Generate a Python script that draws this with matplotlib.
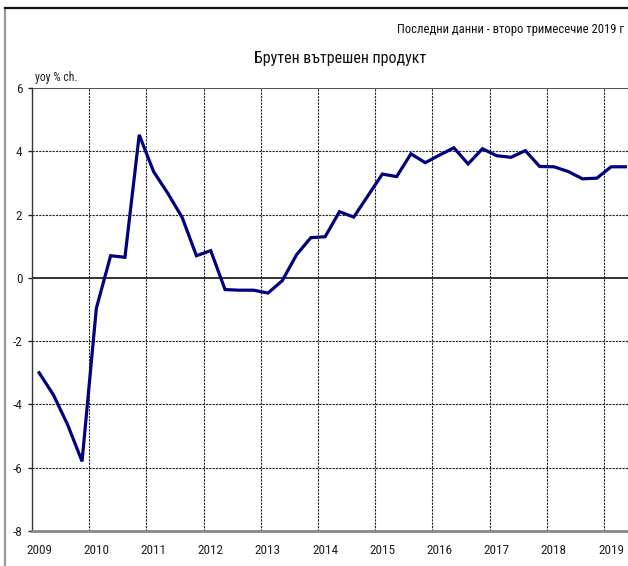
import matplotlib
matplotlib.use("Agg")
import matplotlib.pyplot as plt
from matplotlib import font_manager as fm
from matplotlib.lines import Line2D

# ---- data ----
start_year = 2009
gdp_yoy = [-3.0, -3.70, -4.65, -5.80,
           -0.96, 0.70, 0.65, 4.52,
           3.36, 2.67, 1.91, 0.70,
           0.86, -0.37, -0.39, -0.39,
           -0.48, -0.09, 0.73, 1.27,
           1.30, 2.09, 1.92, 2.60,
           3.28, 3.20, 3.92, 3.64,
           3.88, 4.11, 3.60, 4.08,
           3.86, 3.81, 4.02, 3.52,
           3.51, 3.36, 3.13, 3.15,
           3.51, 3.51]
year_labels = [str(y) for y in range(2009, 2020)]
y_ticks = [-8, -6, -4, -2, 0, 2, 4, 6]
title = "Брутен вътрешен продукт"
subtitle = "Последни данни - второ тримесечие 2019 г"
ylabel = "yoy % ch."

available = {f.name for f in fm.fontManager.ttflist}
fam = "DejaVu Sans"
for cand in ["Liberation Sans Narrow", "DejaVu Sans Condensed", "Roboto Condensed", "Open Sans Condensed"]:
    if cand in available:
        fam = cand
        break
plt.rcParams["font.family"] = [fam, "DejaVu Sans"]

W, H = 628, 566
fig = plt.figure(figsize=(W / 100, H / 100), dpi=100)
fig.patch.set_facecolor("white")

ax = fig.add_axes([32 / W, 1 - 531 / H, (W - 32) / W, (531 - 88) / H])

xs = [start_year + (i + 0.5) / 4 for i in range(len(gdp_yoy))]
ax.plot(xs, gdp_yoy, color="#000080", lw=2.3, solid_joinstyle="miter", zorder=3)

ax.set_xlim(2009, 2019.42)
ax.set_ylim(-8, 6)
ax.set_yticks(y_ticks)
ax.set_yticklabels([str(v) for v in y_ticks])

years = list(range(2009, 2020))
ax.set_xticks([y + 0.125 for y in years])
ax.set_xticklabels(year_labels)
ax.tick_params(axis="x", length=0, pad=9, labelsize=9.5, colors="#222222")
ax.tick_params(axis="y", length=3, width=1, pad=4, labelsize=9.5, colors="#222222")

for y in years[1:]:
    ax.axvline(y, color="#222222", lw=0.8, ls=(0, (2, 1)), zorder=1)
for v in y_ticks:
    if v == 0:
        ax.axhline(v, color="#222222", lw=1.3, zorder=1)
    elif v not in (-8, 6):
        ax.axhline(v, color="#222222", lw=0.8, ls=(0, (2, 1)), zorder=1)
ax.axhline(6, color="#555555", lw=0.8, zorder=1)

for s in ["top", "right"]:
    ax.spines[s].set_visible(False)
ax.spines["left"].set_color("#333333")
ax.spines["left"].set_linewidth(1.0)
ax.spines["bottom"].set_color("#888888")
ax.spines["bottom"].set_linewidth(2.0)

# outer frame
fig.add_artist(Line2D([5 / W, 5 / W], [0, 1 - 8 / H], transform=fig.transFigure, color="#999999", lw=1.6))
fig.add_artist(Line2D([5 / W, 1], [1 - 8 / H, 1 - 8 / H], transform=fig.transFigure, color="#111111", lw=1.6))

fig.text(340 / W, 1 - 58 / H, title, ha="center", va="center", fontsize=11.5, color="#111111")
fig.text(624 / W, 1 - 30 / H, subtitle, ha="right", va="center", fontsize=9.1, color="#111111")
fig.text(35 / W, 1 - 77 / H, ylabel, ha="left", va="center", fontsize=8.5, color="#222222")

fig.savefig("out.png", dpi=100, facecolor="white")
